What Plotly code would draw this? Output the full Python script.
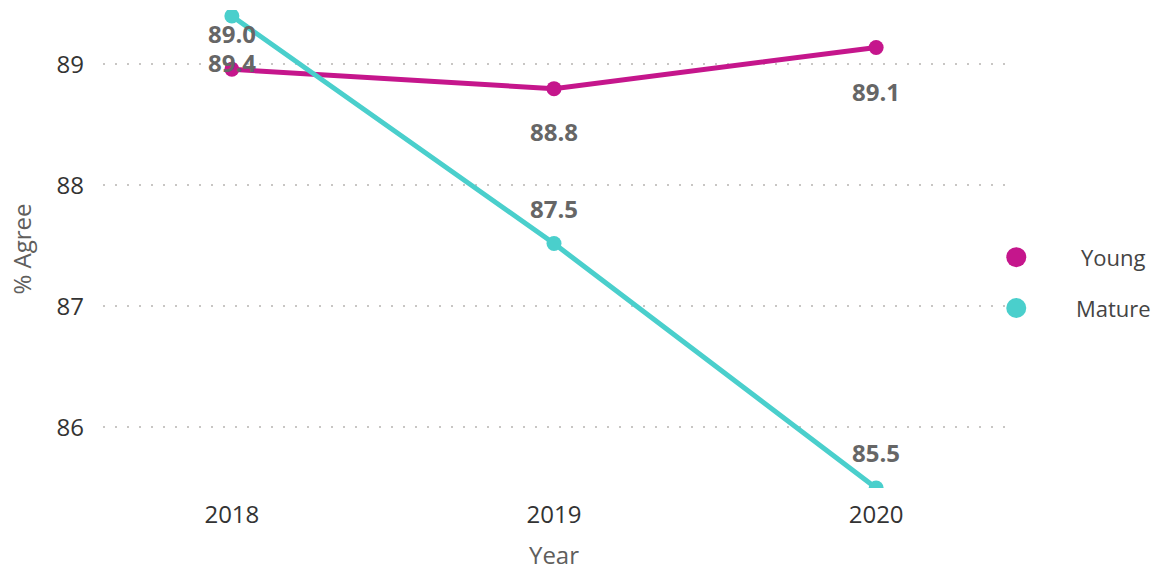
import plotly.graph_objects as go

# Survey results: share of respondents who agree, by age group
years = ["2018", "2019", "2020"]
young = [88.96, 88.80, 89.14]
mature = [89.40, 87.52, 85.50]
series_names = ["Young", "Mature"]
y_ticks = [86, 87, 88, 89]

# vertical pixel offsets of the value labels relative to each point
young_label_shift = [36, -43, -44]
mature_label_shift = [-46, 35, 36]

young_color = "#C5168C"
mature_color = "#4ACFCC"
label_color = "#666666"
font_family = "Open Sans, Segoe UI, sans-serif"

fig = go.Figure()
for name, vals, color in [(series_names[0], young, young_color),
                          (series_names[1], mature, mature_color)]:
    fig.add_trace(go.Scatter(
        x=years, y=vals, name=name, mode="lines+markers",
        line=dict(color=color, width=5),
        marker=dict(color=color, size=15),
        showlegend=False,
    ))

# value labels (category index used as x position)
for vals, shifts in [(young, young_label_shift), (mature, mature_label_shift)]:
    for i, (v, s) in enumerate(zip(vals, shifts)):
        fig.add_annotation(
            x=i, y=v, text=f"{v:.1f}", showarrow=False, yshift=s,
            font=dict(family=font_family, size=24, color=label_color, weight="bold"),
        )

# legend entries on the right
legend_y = [0.483, 0.3766]
for name, color, ly in zip(series_names, [young_color, mature_color], legend_y):
    fig.add_shape(
        type="circle", xref="paper", yref="paper",
        xsizemode="pixel", ysizemode="pixel",
        xanchor=1.0125, yanchor=ly,
        x0=-10, x1=10, y0=-10, y1=10,
        fillcolor=color, line=dict(width=0),
    )
    fig.add_annotation(
        xref="paper", yref="paper", x=1.1205, y=ly, text=name,
        showarrow=False, xanchor="center", yanchor="middle",
        font=dict(family=font_family, size=22, color="#444444"),
    )

fig.update_layout(
    width=1157, height=572,
    margin=dict(l=103, r=152, t=10, b=84),
    paper_bgcolor="white", plot_bgcolor="white",
    font=dict(family=font_family),
    xaxis=dict(
        type="category", range=[-0.4, 2.4], automargin=False,
        showgrid=False, zeroline=False, showline=False,
        tickfont=dict(size=24, color="#333333"),
        ticks="", ticklabelstandoff=10,
        title=dict(text="Year", font=dict(size=24, color="#605E5C"), standoff=18),
    ),
    yaxis=dict(
        range=[85.5, 89.45], tickvals=y_ticks, automargin=False,
        showgrid=True, gridcolor="#C8C6C4", gridwidth=1.5, griddash="2px,10px",
        zeroline=False, showline=False,
        tickfont=dict(size=24, color="#333333"),
        ticks="", ticklabelstandoff=18,
        title=dict(text="% Agree", font=dict(size=24, color="#605E5C"), standoff=18),
    ),
)

fig.write_html("out.html")
